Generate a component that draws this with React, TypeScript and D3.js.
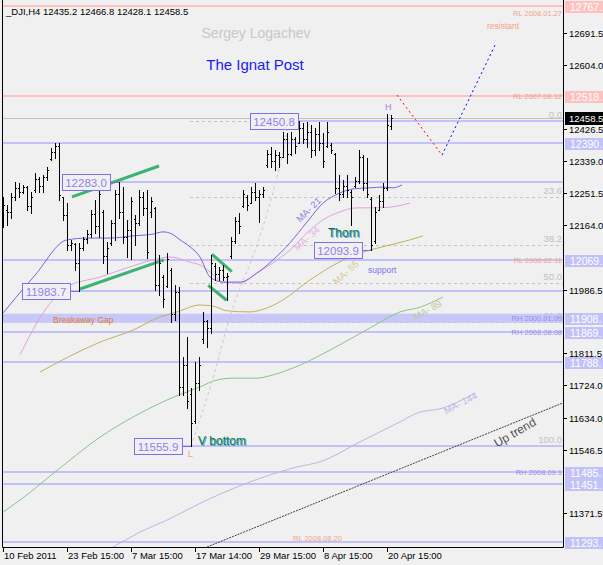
import React from 'react';
import * as d3 from 'd3';

// ---------------- data ----------------
const barOpen = [
  12175,12205,12200,12240,12265,12255,12268,12215,12260,12290,
  12270,12295,12345,12365,12380,12240,12190,12110,12112,12060,
  12100,12125,12140,12195,12160,12200,12080,12115,12170,12250,
  12200,12130,12150,12180,12170,12240,12210,12200,12210,12000,
  12020,11995,12040,11920,11980,11720,11780,11700,11625,11730,
  11850,11900,11880,12050,12030,12040,12020,12080,12120,12175,
  12215,12240,12225,12255,12240,12250,12330,12360,12340,12355,
  12350,12400,12360,12400,12390,12430,12400,12420,12370,12415,
  12390,12380,12385,12360,12265,12250,12270,12255,12270,12285,
  12350,12280,12235,12120,12205,12230,12265,12435.2];
const barHigh = [
  12241,12219,12252,12282,12279,12274,12270,12255,12307,12296,
  12301,12323,12376,12389,12389,12241,12224,12123,12115,12115,
  12131,12150,12205,12233,12260,12205,12117,12177,12260,12283,
  12268,12177,12241,12191,12260,12255,12260,12241,12213,12082,
  12027,12087,12046,11999,11994,11801,11856,11716,11787,11801,
  11925,11903,12082,12060,12049,12054,12032,12131,12186,12197,
  12260,12246,12268,12279,12260,12268,12370,12378,12370,12365,
  12420,12417,12420,12406,12450.8,12444,12447,12439,12431,12447,
  12417,12447,12389,12362,12301,12288,12301,12260,12296,12370,
  12356,12348,12241,12213,12246,12279,12470,12466.8];
const barLow = [
  12158,12164,12183,12233,12241,12252,12205,12197,12255,12255,
  12255,12288,12343,12348,12233,12178,12095,12095,12040,11983.7,
  12095,12115,12131,12142,12131,12060,12032,12109,12123,12183,
  12114,12076,12070,12109,12164,12191,12073,12186,11985,11972,
  11939,11994,11897,11903,11697,11697,11661,11555.9,11620,11711,
  11840,11829,11867,12013,12013,12013,11958,12073,12115,12142,
  12213,12205,12224,12233,12172,12241,12323,12323,12315,12323,
  12350,12334,12356,12362,12389,12389,12378,12351,12356,12370,
  12323,12378,12362,12252,12233,12241,12241,12164,12268,12279,
  12260,12241,12093.9,12115,12205,12213,12260,12428.1];
const barClose = [
  12220,12200,12240,12265,12255,12268,12215,12240,12290,12270,
  12295,12315,12365,12380,12245,12190,12110,12115,12060,12100,
  12125,12140,12195,12160,12250,12080,12100,12170,12250,12200,
  12130,12150,12230,12170,12240,12210,12090,12230,12000,12060,
  11960,12070,11920,11980,11720,11780,11680,11620,11730,11780,
  11900,11880,12060,12030,12040,12020,12025,12120,12175,12160,
  12250,12220,12255,12240,12250,12260,12360,12340,12355,12350,
  12400,12360,12400,12380,12430,12400,12420,12370,12415,12390,
  12340,12420,12370,12265,12250,12270,12260,12240,12285,12350,
  12280,12250,12110,12200,12230,12265,12440,12458.5];

const dateLabels = ['10 Feb 2011','23 Feb 15:00','7 Mar 15:00','17 Mar 14:00','29 Mar 15:00','8 Apr 15:00','20 Apr 15:00'];
const dateBars = [0,16,32,48,64,80,96];

const priceTicks = [12691.5,12604.0,12426.5,12339.0,12251.5,12164.0,11986.5,11811.5,11724.0,11634.0,11546.5,11371.5];

// moving averages: bar position and value
const ma21Bar = [0,8,16,21.25,26.75,32.5,37.5,40,42.25,44.25,46.75,49.25,51.75,55,59.25,63.5,67.5,71.75,76,80,84.25,87.5,91.75,95,97.5,99.75];
const ma21Val = [11922,12026,12123,12128,12128,12134,12139,12145,12139,12123,12104,12076,12021,12007,12007,12032,12068,12115,12172,12224,12252,12263,12266,12268,12266,12274];
const ma34Bar = [4.25,10.5,16,24.25,31,37.5,41.75,46.75,49.25,51.75,55,59.25,63.5,67.5,71.75,76,80,84.25,88.5,92.5,96.75,101.75];
const ma34Val = [11807,11930,11994,12021,12046,12068,12076,12062,12054,12035,12007,12004,12032,12060,12095,12142,12178,12200,12211,12211,12213,12224];
const ma55Bar = [9.25,24.25,32.5,38.5,43.5,49.25,52.5,56,61.75,66,70,76,81.75,86.75,91.75,96.75,101.75,105];
const ma55Val = [11760,11842,11875,11908,11925,11944,11941,11928,11925,11936,11958,12007,12048,12076,12095,12109,12123,12134];
const ma89Bar = [0,4.25,14.25,24.25,32.5,41,49.25,53.5,57.5,63.5,67.5,74.25,81.75,91.75,99.25,104.25,110];
const ma89Val = [11375,11408,11496,11581,11636,11683,11719,11738,11743,11743,11752,11779,11820,11881,11925,11938,11966];
const ma144Bar = [19.25,27.5,34.25,41,50,58.5,66.75,73.5,79.25,89.25,99.25,103.5,110,118];
const ma144Val = [11230,11279,11320,11353,11403,11444,11477,11499,11513,11568,11623,11647,11661,11702];

// support / resistance levels
const fullLevels = [12390, 12069, 11869, 11788, 11485, 11451, 11293];
const pinkLevels = [12767, 12518];
const gapHigh = 11920, gapLow = 11895;
const lastPrice = 12458.5;
const axisBoxValues = [12767, 12518, 12390, 12069, 11908, 11869, 11788, 11485, 11451, 11293];
const axisBoxTexts = ['12767.', '12518.', '12390.', '12069.', '11908.', '11869.', '11788.', '11485.', '11451.', '11293.'];
const noteValues = [12767, 12518, 12069, 11908, 11869, 11485, 11293];
const noteTexts = ['RL  2008.01.27', 'RL  2007.08.12', 'RL  2008.02.11', 'RH  2000.01.09', 'RH  2008.08.08', 'RH  2008.09.1', 'RL  2008.08.20'];
const noteKinds = ['RL', 'RL', 'RL', 'RH', 'RH', 'RH', 'RL'];

// price marks (boxes)
const markValues = [12283.0, 11983.7, 12450.8, 12093.9, 11555.9];
const markBars = [29, 19, 74, 92, 47];

// fibonacci
const fiboHigh = 12450.8, fiboLow = 11555.9;
const fiboLevels = [0, 23.6, 38.2, 50.0, 61.8, 100.0];

// drawn lines (bar position, price)
const channelUpper = [[17.25, 12241], [39, 12326]];
const channelLower = [[19.25, 11988], [40.25, 12068]];
const thornUpper = [[52.2, 12084], [57.2, 12036]];
const thornLower = [[51.3, 11998], [55.9, 11957]];
const upTrend = [[51, 11279], [140, 11675]];
const vCurve = [[47, 11555.9], [51.75, 11716], [57.25, 11930], [63.5, 12109], [68, 12274], [71.75, 12452]];
const redPath = [[98.5, 12521], [109.75, 12356]];
const bluePath = [[109.75, 12356], [123, 12658]];

const FONT = '"Liberation Sans", Arial, sans-serif';

export default function App() {
  const W = 603, H = 565;
  const L = 3, R = 563, T = 0, B = 547;
  const x = d3.scaleLinear().domain([0, 140]).range([L, R]);
  const y = d3.scaleLinear().domain([11279, 12782.2]).range([B, T]);
  const ry = (v: number) => Math.round(y(v));

  const line = d3.line<number[]>().x(d => x(d[0])).y(d => y(d[1]));
  const curve = d3.line<number[]>().x(d => x(d[0])).y(d => y(d[1])).curve(d3.curveMonotoneX);
  const maPath = (bars: number[], vals: number[]) => curve(bars.map((b, i) => [b, vals[i]])) || '';

  const lav = '#c2c2f8';
  const pink = '#ffc0c0';

  const bars = barHigh.map((h, i) => {
    const bx = Math.round(x(i));
    const yh = ry(h), yl = ry(barLow[i]);
    return (
      <g key={i}>
        <rect x={bx} y={yh} width={1} height={Math.max(1, yl - yh + 1)} fill="#000" />
        <rect x={bx - 1} y={ry(barOpen[i])} width={1} height={1} fill="#000" />
        <rect x={bx + 1} y={ry(barClose[i])} width={1} height={1} fill="#000" />
      </g>
    );
  });

  const fiboVal = (p: number) => fiboHigh - (fiboHigh - fiboLow) * p / 100;

  // mark box layout (box right edge in bar units)
  const markBoxRight = [26.75, 16.75, 73.75, 89.75, 44.75];
  const markLineToRight = [true, true, true, false, true];

  return (
    <svg width={W} height={H} style={{ position: 'absolute', left: 0, top: 0, display: 'block', background: '#f0f0f0' }} fontFamily={FONT}>
      <defs>
        <clipPath id="plot"><rect x={L} y={T} width={R - L} height={B - T} /></clipPath>
      </defs>
      <rect x={0} y={0} width={W} height={H} fill="#f0f0f0" />
      <g clipPath="url(#plot)">
        {/* full width levels */}
        {fullLevels.map((v, i) => (
          <line key={'fl' + i} x1={L} x2={R} y1={ry(v)} y2={ry(v)} stroke={lav} strokeWidth={2} />
        ))}
        {pinkLevels.map((v, i) => (
          <line key={'pl' + i} x1={L} x2={R} y1={ry(v)} y2={ry(v)} stroke={pink} strokeWidth={2} />
        ))}
        {/* fibo */}
        {fiboLevels.map((p, i) => (
          <line key={'fb' + i} x1={x(46.75)} x2={R} y1={ry(fiboVal(p)) + 0.5} y2={ry(fiboVal(p)) + 0.5} stroke="#c4c4c4" strokeDasharray="3,3" />
        ))}
        {fiboLevels.map((p, i) => (
          <text key={'ft' + i} x={R - 1} y={ry(fiboVal(p)) - 3} textAnchor="end" fontSize={9.5} fill="#c0c0c0">{p.toFixed(1)}</text>
        ))}
        {/* gap band drawn over the fibo label, as in the original */}
        <rect x={L} y={y(gapHigh)} width={R - L} height={y(gapLow) - y(gapHigh)} fill={lav} opacity={0.9} />
        {/* mark lines */}
        {markValues.map((v, i) => markLineToRight[i] ? (
          <line key={'ml' + i} x1={x(markBoxRight[i])} x2={R} y1={ry(v)} y2={ry(v)} stroke={lav} strokeWidth={2} />
        ) : null)}
        {/* last price line */}
        <line x1={L} x2={R} y1={ry(lastPrice) + 0.5} y2={ry(lastPrice) + 0.5} stroke="#c0c0c0" />

        {/* moving averages */}
        <path d={maPath(ma144Bar, ma144Val)} fill="none" stroke="#b8b8e4" strokeWidth={1} />
        <path d={maPath(ma89Bar, ma89Val)} fill="none" stroke="#88c488" strokeWidth={1} />
        <path d={maPath(ma55Bar, ma55Val)} fill="none" stroke="#c0b060" strokeWidth={1} />
        <path d={maPath(ma34Bar, ma34Val)} fill="none" stroke="#e0a0e0" strokeWidth={1} />
        <path d={maPath(ma21Bar, ma21Val)} fill="none" stroke="#8060e0" strokeWidth={1} />

        {/* V bottom curve */}
        <path d={curve(vCurve) || ''} fill="none" stroke="#c8c8c8" strokeDasharray="3,3" />
        {/* up trend */}
        <path d={line(upTrend) || ''} fill="none" stroke="#404040" strokeDasharray="2,1" />

        {/* channels */}
        <path d={line(channelUpper) || ''} stroke="#3cb371" strokeWidth={3} fill="none" />
        <path d={line(channelLower) || ''} stroke="#3cb371" strokeWidth={3} fill="none" />
        <path d={line(thornUpper) || ''} stroke="#3cb371" strokeWidth={3} fill="none" />
        <path d={line(thornLower) || ''} stroke="#3cb371" strokeWidth={3} fill="none" />

        {/* forecast */}
        <path d={line(redPath) || ''} stroke="#ff0000" strokeDasharray="2,3" fill="none" />
        <path d={line(bluePath) || ''} stroke="#0000ff" strokeDasharray="2,3" fill="none" />

        {bars}

        {/* mark boxes */}
        {markValues.map((v, i) => {
          const bxR = Math.round(x(markBoxRight[i]));
          const yy = ry(v);
          return (
            <g key={'mb' + i}>
              <line x1={bxR} x2={Math.round(x(markBars[i]))} y1={yy + 0.5} y2={yy + 0.5} stroke="#8070e8" />
              <rect x={bxR - 48 + 0.5} y={yy - 8 + 0.5} width={48} height={16} fill="#f0f0f0" stroke="#8070e8" />
              <text x={bxR - 24} y={yy + 4.5} textAnchor="middle" fontSize={11.5} fill="#9080f0">{v.toFixed(1)}</text>
            </g>
          );
        })}

        {/* level notes */}
        {noteValues.map((v, i) => {
          const last = i === noteValues.length - 1;
          const first = i === 0;
          const ty = first ? ry(v) + 10 : ry(v) + 3;
          return (
            <text key={'nt' + i} x={last ? x(72.5) : R - 1} y={last ? ry(v) - 1 : ty} textAnchor={last ? 'start' : 'end'} fontSize={7.5}
              fill={noteKinds[i] === 'RL' ? '#f0a488' : '#9a8cf0'}>{noteTexts[i]}</text>
          );
        })}

        {/* MA labels */}
        <text transform={`translate(311,212) rotate(-45)`} textAnchor="middle" fontSize={9.5} fill="#9080e8">MA- 21</text>
        <text transform={`translate(309,241) rotate(-42)`} textAnchor="middle" fontSize={9.5} fill="#e8b0e8">MA- 34</text>
        <text transform={`translate(348,275) rotate(-42)`} textAnchor="middle" fontSize={9.5} fill="#d8c890">MA- 55</text>
        <text transform={`translate(429,313) rotate(-28)`} textAnchor="middle" fontSize={9.5} fill="#b8cc98">MA- 89</text>
        <text transform={`translate(462,406) rotate(-27)`} textAnchor="middle" fontSize={9.5} fill="#b8b8e4">MA- 144</text>
        <text transform={`translate(517,436) rotate(-30)`} textAnchor="middle" fontSize={12} fill="#505050">Up trend</text>

        {/* annotations */}
        <text x={329} y={238} fontSize={12} fill="#50a8f0">Thorn</text>
        <text x={328} y={237} fontSize={12} fill="#107838">Thorn</text>
        <text x={199} y={446} fontSize={12} fill="#50a8f0">V bottom</text>
        <text x={198} y={445} fontSize={12} fill="#107838">V bottom</text>
        <text x={53} y={323} fontSize={8.5} fill="#e07838">Breakaway Gap</text>
        <text x={368} y={273} fontSize={8.5} fill="#8070f0">support</text>
        <text x={487} y={29} fontSize={8.5} fill="#f0a488">resistant</text>
        <text x={385} y={110} fontSize={9} fill="#a080f0">H</text>
        <text x={188} y={457} fontSize={9} fill="#f0a488">L</text>

        <text x={256} y={38} textAnchor="middle" fontSize={14} fill="#c8c8c8">Sergey Logachev</text>
        <text x={255} y={70} textAnchor="middle" fontSize={15} fill="#1c1cf0">The Ignat Post</text>
      </g>

      {/* header */}
      <text x={6} y={15} fontSize={9.5} fill="#000">_DJI,H4  12435.2 12466.8 12428.1 12458.5</text>

      {/* frame */}
      <line x1={2.5} x2={2.5} y1={0} y2={B + 0.5} stroke="#000" />
      <line x1={2.5} x2={R + 0.5} y1={B + 0.5} y2={B + 0.5} stroke="#000" />
      <line x1={R + 0.5} x2={R + 0.5} y1={0} y2={B + 0.5} stroke="#000" />

      {/* right axis */}
      {priceTicks.map((v, i) => (
        <g key={'pt' + i}>
          <line x1={R} x2={R + 4} y1={ry(v) + 0.5} y2={ry(v) + 0.5} stroke="#000" />
          <text x={R + 6} y={ry(v) + 3.5} fontSize={9.5} fill="#000">{v.toFixed(1)}</text>
        </g>
      ))}
      {axisBoxValues.map((v, i) => (
        <g key={'ab' + i}>
          <rect x={R + 2} y={ry(v) - 5} width={W - R - 2} height={12} fill={i < 2 ? pink : lav} />
          <text x={R + 7} y={ry(v) + 5} fontSize={10.5} fill="#fff">{axisBoxTexts[i]}</text>
        </g>
      ))}
      <rect x={R + 2} y={ry(lastPrice) - 6} width={W - R - 2} height={13} fill="#000" />
      <text x={R + 6} y={ry(lastPrice) + 4} fontSize={9.5} fill="#fff">{lastPrice.toFixed(1)}</text>

      {/* bottom axis */}
      {dateBars.map((b, i) => (
        <g key={'db' + i}>
          <line x1={Math.round(x(b)) + 0.5} x2={Math.round(x(b)) + 0.5} y1={B} y2={B + 5} stroke="#000" />
          <text x={Math.round(x(b)) + 1} y={559} fontSize={9.5} fill="#000">{dateLabels[i]}</text>
        </g>
      ))}
    </svg>
  );
}
